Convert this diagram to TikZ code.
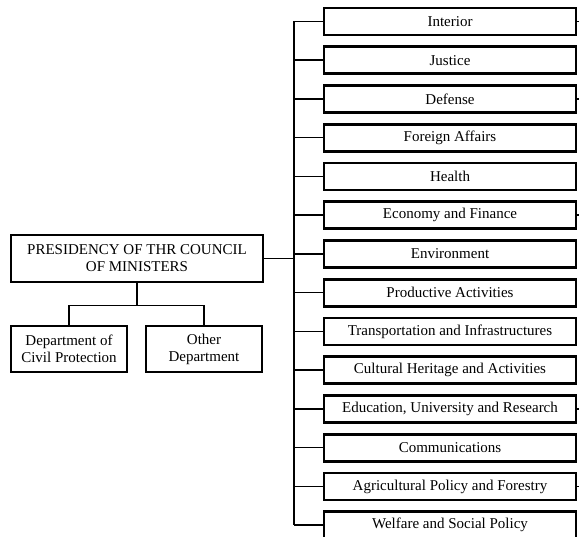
\documentclass[tikz,border=0pt]{standalone}
\usepackage{fontspec}
\setmainfont{Liberation Serif}

\begin{document}
\begin{tikzpicture}[x=1pt,y=-1pt,
  box/.style={draw,line width=2.8pt,inner sep=0pt,align=center,
    font=\fontsize{15}{17}\selectfont},
  ministry/.style={box,minimum width=252pt,minimum height=27pt},
  dept/.style={box,minimum width=116pt,minimum height=46pt},
  link/.style={line width=1.5pt}]
\useasboundingbox (0,0) rectangle (579,537);
\clip (0,0) rectangle (579,537);

 \node[box,minimum width=252pt,minimum height=47pt] (pres) at (137,258.5)
   {PRESIDENCY OF THR COUNCIL\\OF MINISTERS};
 \node[dept] (civil) at (69,349) {Department of\\Civil Protection};
 \node[dept] (other) at (204,349) {Other\\Department};

 \node[ministry] (interior) at (450,21.5)   {Interior};
 \node[ministry] (justice)  at (450,60.25)  {Justice};
 \node[ministry] (defense)  at (450,99)     {Defense};
 \node[ministry] (foreign)  at (450,137.75) {Foreign Affairs};
 \node[ministry] (health)   at (450,176.5)  {Health};
 \node[ministry] (economy)  at (450,215.25) {Economy and Finance};
 \node[ministry] (environ)  at (450,254)    {Environment};
 \node[ministry] (product)  at (450,292.75) {Productive Activities};
 \node[ministry] (transport) at (450,331.5) {Transportation and Infrastructures};
 \node[ministry] (culture)  at (450,370.25) {Cultural Heritage and Activities};
 \node[ministry] (educ)     at (450,409)    {Education, University and Research};
 \node[ministry] (comm)     at (450,447.75) {Communications};
 \node[ministry] (agri)     at (450,486.5)  {Agricultural Policy and Forestry};
 \node[ministry] (welfare)  at (450,525.25) {Welfare and Social Policy};

 % trunk on the left of the ministries
 \coordinate (trunk) at (294,0);
 \draw[link] (interior.west -| trunk) -- (welfare.west -| trunk);
 \draw[link] (pres.east) -- (pres.east -| trunk);

 \draw[link] (interior.west)  -- (interior.west -| trunk);
 \draw[link] (justice.west)   -- (justice.west -| trunk);
 \draw[link] (defense.west)   -- (defense.west -| trunk);
 \draw[link] (foreign.west)   -- (foreign.west -| trunk);
 \draw[link] (health.west)    -- (health.west -| trunk);
 \draw[link] (economy.west)   -- (economy.west -| trunk);
 \draw[link] (environ.west)   -- (environ.west -| trunk);
 \draw[link] (product.west)   -- (product.west -| trunk);
 \draw[link] (transport.west) -- (transport.west -| trunk);
 \draw[link] (culture.west)   -- (culture.west -| trunk);
 \draw[link] (educ.west)      -- (educ.west -| trunk);
 \draw[link] (comm.west)      -- (comm.west -| trunk);
 \draw[link] (agri.west)      -- (agri.west -| trunk);
 \draw[link] (welfare.west)   -- (welfare.west -| trunk);

 % short stubs on the right
 \draw[link] (interior.east) -- ++(6,0);
 \draw[link] (defense.east)  -- ++(6,0);
 \draw[link] (economy.east)  -- ++(6,0);
 \draw[link] (educ.east)     -- ++(6,0);
 \draw[link] (agri.east)     -- ++(6,0);

 % the two departments below
 \draw[link] (pres.south) -- ++(0,22) -| (civil.north);
 \draw[link] (pres.south) -- ++(0,22) -| (other.north);
\end{tikzpicture}
\end{document}
